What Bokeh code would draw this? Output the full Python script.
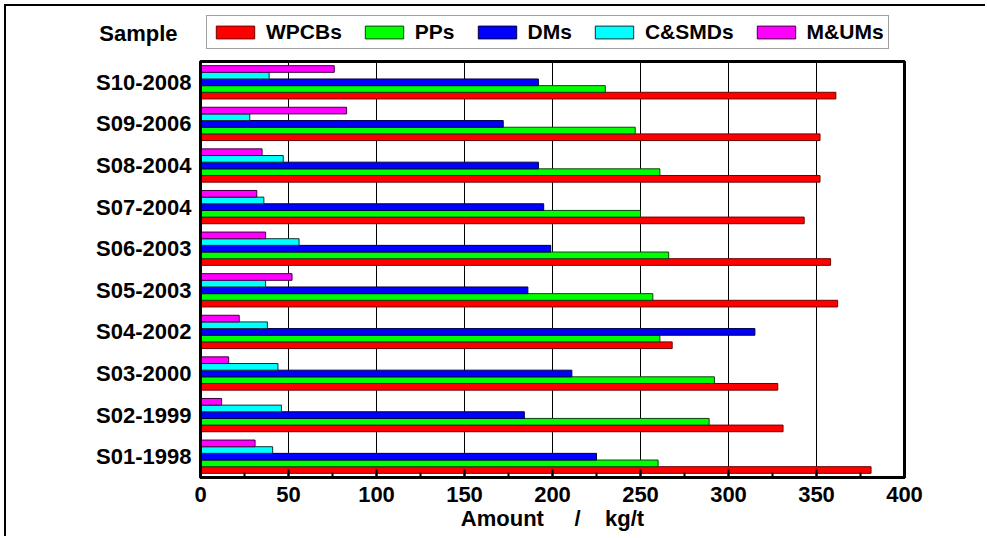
from bokeh.plotting import figure
from bokeh.models import (Range1d, FactorRange, SingleIntervalTicker, FixedTicker,
                          ColumnDataSource, Legend, LegendItem)
from bokeh.layouts import column
from bokeh.transform import dodge
from bokeh.embed import file_html
from bokeh.resources import INLINE

# ---- data ----
samples = ["S01-1998", "S02-1999", "S03-2000", "S04-2002", "S05-2003",
           "S06-2003", "S07-2004", "S08-2004", "S09-2006", "S10-2008"]
wpcbs = [381, 331, 328, 268, 362, 358, 343, 352, 352, 361]
pps = [260, 289, 292, 261, 257, 266, 250, 261, 247, 230]
dms = [225, 184, 211, 315, 186, 199, 195, 192, 172, 192]
csmds = [41, 46, 44, 38, 37, 56, 36, 47, 28, 39]
mums = [31, 12, 16, 22, 52, 37, 32, 35, 83, 76]
series_names = ["WPCBs", "PPs", "DMs", "C&SMDs", "M&UMs"]
series_cols = ["wpcbs", "pps", "dms", "csmds", "mums"]
colors = ["#ff0000", "#00ff00", "#0000ff", "#00ffff", "#ff00ff"]
edge_colors = ["#700000", "#104010", "#000040", "#103030", "#400040"]
offsets = [-0.32, -0.16, 0.0, 0.16, 0.32]
x_ticks_major = 50
x_max = 400
NB = "\u00a0"
x_label = "Amount" + NB * 5 + "/" + NB * 4 + "kg/t"
heading = "Sample"

FONT = "Liberation Sans"
W = 979
LEFT, RIGHT = 194, 81

source = ColumnDataSource(dict(cat=samples, wpcbs=wpcbs, pps=pps, dms=dms,
                               csmds=csmds, mums=mums))

# ---------------- main chart ----------------
p = figure(width=W, height=476, output_backend="svg", toolbar_location=None,
           y_range=FactorRange(factors=samples), x_range=Range1d(0, x_max),
           min_border_left=LEFT, min_border_right=RIGHT, min_border_top=1,
           min_border_bottom=59)

for name, col, c, ec, off in zip(series_names, series_cols, colors, edge_colors, offsets):
    p.hbar(y=dodge("cat", off, range=p.y_range), right=col, left=0, height=0.16,
           source=source, fill_color=c, line_color=ec, line_width=1)

p.outline_line_color = "black"
p.outline_line_width = 3
p.background_fill_color = "white"

xt = SingleIntervalTicker(interval=x_ticks_major, num_minor_ticks=2)
xa = p.xaxis[0]
xa.ticker = xt
xa.axis_line_width = 3
xa.major_tick_in = 8
xa.major_tick_out = 0
xa.major_tick_line_width = 2
xa.minor_tick_in = 5
xa.minor_tick_out = 0
xa.minor_tick_line_width = 2
xa.major_label_standoff = 9
xa.major_label_text_font = FONT
xa.major_label_text_font_style = "bold"
xa.major_label_text_font_size = "22px"
xa.major_label_text_color = "black"
xa.axis_label = x_label
xa.axis_label_standoff = 1
xa.axis_label_text_font = FONT
xa.axis_label_text_font_style = "bold"
xa.axis_label_text_font_size = "22px"
xa.axis_label_text_color = "black"

ya = p.yaxis[0]
ya.axis_line_width = 3
ya.major_tick_in = 0
ya.major_tick_out = 0
ya.major_label_standoff = 9
ya.major_label_text_font = FONT
ya.major_label_text_font_style = "bold"
ya.major_label_text_font_size = "22px"
ya.major_label_text_color = "black"

p.xgrid.ticker = xt
p.xgrid.grid_line_color = "black"
p.xgrid.grid_line_width = 1
p.ygrid.visible = False

# ---------------- header: "Sample" + legend ----------------
h = figure(width=W, height=54, output_backend="svg", toolbar_location=None,
           x_axis_type=None, x_range=Range1d(0, 1), y_range=Range1d(0, 1),
           min_border_left=LEFT, min_border_right=RIGHT, min_border_top=0,
           min_border_bottom=0, outline_line_color=None)
h.grid.visible = False
hy = h.yaxis[0]
hy.ticker = FixedTicker(ticks=[])
hy.axis_line_color = None
hy.major_tick_out = 0
hy.major_tick_in = 0
hy.minor_tick_out = 0
hy.minor_tick_in = 0
hy.major_label_standoff = 0
hy.axis_label = heading
hy.axis_label_orientation = "horizontal"
hy.axis_label_standoff = 23
hy.axis_label_text_font = FONT
hy.axis_label_text_font_style = "bold"
hy.axis_label_text_font_size = "22px"
hy.axis_label_text_color = "black"

# legend swatches (proxy renderers kept outside the visible header range)
items = []
for name, c, ec in zip(series_names, colors, edge_colors):
    r = h.hbar(y=[-1], right=[0], left=0, height=0.1, fill_color=c, line_color=ec,
               line_width=1)
    items.append(LegendItem(label=name, renderers=[r]))

lg = Legend(items=items, orientation="horizontal", location=(6, 11), margin=0,
            padding=4, spacing=18, glyph_width=48, glyph_height=16,
            label_standoff=7, label_text_font=FONT, label_text_font_style="bold",
            label_text_font_size="21px", label_text_color="black",
            label_height=16, border_line_color="#444444", border_line_width=1,
            background_fill_color="white", background_fill_alpha=1)
h.add_layout(lg, "center")

layout = column(h, p, spacing=0)
layout.styles = {"border-top": "2px solid black", "border-left": "2px solid black",
                 "margin-top": "4px", "margin-left": "4px"}

open("out.html", "w").write(file_html(layout, INLINE))
